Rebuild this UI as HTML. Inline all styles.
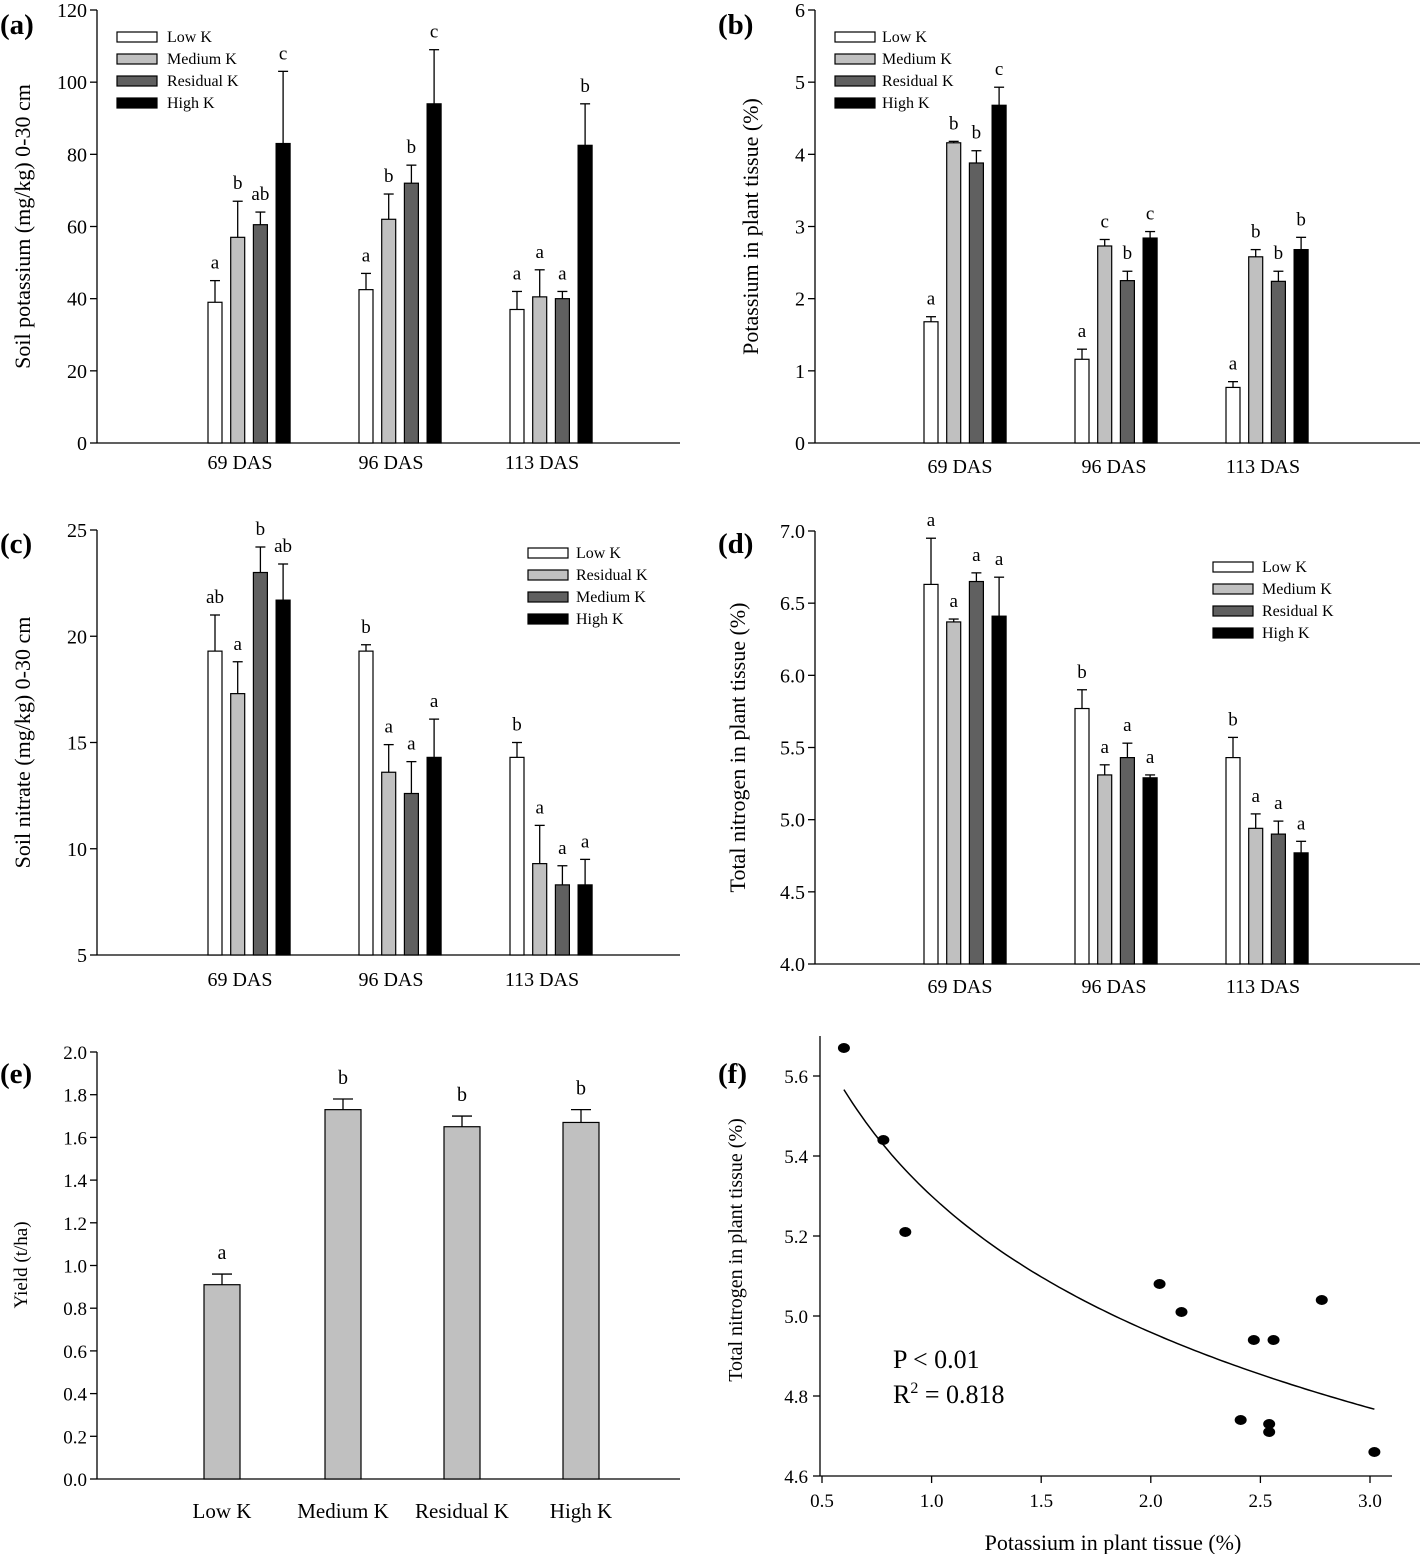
<!DOCTYPE html>
<html><head><meta charset="utf-8"><style>
html,body{margin:0;padding:0;background:#fff;}
svg{display:block;font-family:"Liberation Serif",serif;}
</style></head><body>
<svg id="s" width="1420" height="1554" viewBox="0 0 1420 1554" xmlns="http://www.w3.org/2000/svg"></svg>
<script>
const S=document.getElementById('s');let h='';
function L(x1,y1,x2,y2,w){h+=`<line x1="${x1}" y1="${y1}" x2="${x2}" y2="${y2}" stroke="#000" stroke-width="${w||1.3}"/>`;}
function T(x,y,t,sz,anc,extra){h+=`<text x="${x}" y="${y}" font-size="${sz}" text-anchor="${anc||'middle'}" ${extra||''}>${t}</text>`;}
function R(x,y,w,hh,f){h+=`<rect x="${x}" y="${y}" width="${w}" height="${hh}" fill="${f}" stroke="#000" stroke-width="1.2"/>`;}
const C=['#fff','#c0c0c0','#606060','#000'];
function bar(ax,ytop,ybot,vmin,vmax,step,dec,xend,xs,vals,errs,lets,cols,groupX,glY,ylabel,ylx,leg){
  const sc=(ybot-ytop)/(vmax-vmin),Y=v=>ybot-(v-vmin)*sc;
  L(ax,ytop,ax,ybot);L(ax,ybot,xend,ybot);
  for(let v=vmin;v<=vmax+1e-9;v+=step){const y=Y(v);L(ax-7,y,ax,y);T(ax-10,y+7,v.toFixed(dec),20,'end');}
  for(let g=0;g<3;g++)for(let i=0;i<4;i++){
    const x=xs[g]+i*22.7,v=vals[g][i],e=errs[g][i];
    L(x+7,Y(e),x+7,Y(v));L(x+2,Y(e),x+12,Y(e));
    R(x,Y(v),14,ybot-Y(v),cols[i]);
    T(x+7,Y(e)-12,lets[g][i],19);
  }
  groupX.forEach((gx,k)=>T(gx,glY,['69 DAS','96 DAS','113 DAS'][k],20));
  const cy=(ytop+ybot)/2;
  T(ylx,cy,ylabel,22,'middle',`transform="rotate(-90 ${ylx} ${cy})"`);
  leg[3].forEach((n,i)=>{R(leg[0],leg[2]+i*22-5,40,10,leg[4][i]);T(leg[1],leg[2]+i*22+5,n,16,'start');});
}
bar(97,10,443,0,120,20,0,680,[208,359,510],
 [[39,57,60.5,83],[42.5,62,72,94],[37,40.5,40,82.5]],
 [[45,67,64,103],[47,69,77,109],[42,48,42,94]],
 [['a','b','ab','c'],['a','b','b','c'],['a','a','a','b']],C,[240,391,542],469,'Soil potassium (mg/kg)  0-30 cm',30,
 [117,167,37,['Low K','Medium K','Residual K','High K'],C]);
bar(815,10,443,0,6,1,0,1420,[924,1075,1226],
 [[1.68,4.16,3.88,4.68],[1.16,2.73,2.25,2.84],[0.77,2.58,2.24,2.68]],
 [[1.75,4.18,4.05,4.93],[1.3,2.82,2.38,2.93],[0.85,2.68,2.38,2.85]],
 [['a','b','b','c'],['a','c','b','c'],['a','b','b','b']],C,[960,1114,1263],473,'Potassium in plant tissue (%)',758,
 [835,882,37,['Low K','Medium K','Residual K','High K'],C]);
bar(97,530,955,5,25,5,0,680,[208,359,510],
 [[19.3,17.3,23,21.7],[19.3,13.6,12.6,14.3],[14.3,9.3,8.3,8.3]],
 [[21,18.8,24.2,23.4],[19.6,14.9,14.1,16.1],[15,11.1,9.2,9.5]],
 [['ab','a','b','ab'],['b','a','a','a'],['b','a','a','a']],C,[240,391,542],986,'Soil nitrate (mg/kg) 0-30 cm',30,
 [528,576,553,['Low K','Residual K','Medium K','High K'],C]);
bar(815,531,964,4,7,0.5,1,1420,[924,1075,1226],
 [[6.63,6.37,6.65,6.41],[5.77,5.31,5.43,5.29],[5.43,4.94,4.90,4.77]],
 [[6.95,6.39,6.71,6.68],[5.90,5.38,5.53,5.31],[5.57,5.04,4.99,4.85]],
 [['a','a','a','a'],['b','a','a','a'],['b','a','a','a']],C,[960,1114,1263],993,'Total nitrogen in plant tissue (%)',745,
 [1213,1262,567,['Low K','Medium K','Residual K','High K'],C]);
// panel e
{const ax=97,yt=1052,yb=1479,Y=v=>yb-v*213.5;
 L(ax,yt,ax,yb);L(ax,yb,680,yb);
 for(let k=0;k<=10;k++){const v=k*0.2,y=Y(v);L(ax-7,y,ax,y);T(ax-10,y+7,v.toFixed(1),19,'end');}
 [[204,0.91,0.96,'a','Low K'],[325,1.73,1.78,'b','Medium K'],[444,1.65,1.70,'b','Residual K'],[563,1.67,1.73,'b','High K']].forEach(b=>{
  const x=b[0];L(x+18,Y(b[2]),x+18,Y(b[1]));L(x+8,Y(b[2]),x+28,Y(b[2]));
  R(x,Y(b[1]),36,yb-Y(b[1]),'#c0c0c0');T(x+18,Y(b[2])-15,b[3],20);T(x+18,1518,b[4],21);});
 T(27,1265,'Yield (t/ha)',19,'middle','transform="rotate(-90 27 1265)"');}
// panel f
{const X=v=>822+(v-0.5)*219.2,Y=v=>1476-(v-4.6)*400;
 L(820,1036,820,1476);L(820,1476,1392,1476);
 [5.6,5.4,5.2,5.0,4.8,4.6].forEach(v=>{L(813,Y(v),820,Y(v));T(808,Y(v)+7,v.toFixed(1),19,'end');});
 [0.5,1,1.5,2,2.5,3].forEach(v=>{L(X(v),1476,X(v),1483);T(X(v),1507,v.toFixed(1),19);});
 let p='';for(let x=0.6;x<=3.021;x+=0.02){p+=(p?'L':'M')+X(x).toFixed(1)+','+Y(5.30*Math.pow(x,-0.0959)).toFixed(1);}
 h+=`<path d="${p}" fill="none" stroke="#000" stroke-width="1.5"/>`;
 [[0.6,5.67],[0.78,5.44],[0.88,5.21],[2.04,5.08],[2.14,5.01],[2.47,4.94],[2.56,4.94],[2.78,5.04],[2.41,4.74],[2.54,4.73],[2.54,4.71],[3.02,4.66]].forEach(q=>h+=`<ellipse cx="${X(q[0])}" cy="${Y(q[1])}" rx="6" ry="5" fill="#000"/>`);
 T(893,1368,'P &lt; 0.01',26,'start');
 h+=`<text x="893" y="1403" font-size="26">R<tspan font-size="16" dy="-10">2</tspan><tspan dy="10"> = 0.818</tspan></text>`;
 T(1113,1550,'Potassium in plant tissue (%)',22);
 T(742,1250,'Total nitrogen in plant tissue (%)',20,'middle','transform="rotate(-90 742 1250)"');}
[['(a)',0,34],['(b)',718,34],['(c)',0,553],['(d)',718,553],['(e)',0,1083],['(f)',718,1083]].forEach(a=>T(a[1],a[2],a[0],29,'start','font-weight="bold"'));
S.innerHTML=h;
</script>
</body></html>
